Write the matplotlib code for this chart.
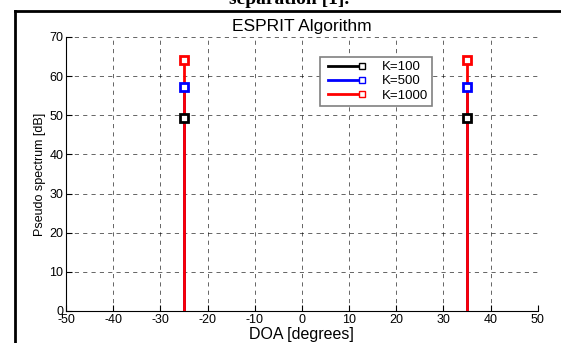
import numpy as np
import matplotlib
matplotlib.use('Agg')
import matplotlib.pyplot as plt
from matplotlib.lines import Line2D
from matplotlib.legend_handler import HandlerLine2D

# data
doa = [-25, 35]
labels = ['K=100', 'K=500', 'K=1000']
colors = ['black', 'blue', 'red']
peaks_k100 = [49.3, 49.3]
peaks_k500 = [57.3, 57.3]
peaks_k1000 = [64.0, 64.0]
peaks = [peaks_k100, peaks_k500, peaks_k1000]

xticks = list(range(-50, 51, 10))
yticks = list(range(0, 71, 10))

plt.rcParams['font.family'] = ['Liberation Sans', 'DejaVu Sans']
plt.rcParams['axes.unicode_minus'] = False


class EndMarker(HandlerLine2D):
    # legend line with the marker only at its right end
    def create_artists(self, legend, orig_handle, xdescent, ydescent,
                       width, height, fontsize, trans):
        arts = super().create_artists(legend, orig_handle, xdescent, ydescent,
                                      width, height, fontsize, trans)
        for a in arts:
            n = len(a.get_xdata())
            a.set_markevery([n - 1])
        return arts


fig = plt.figure(figsize=(5.61, 3.43), dpi=100)
ax = fig.add_axes([0.1176, 0.0933, 0.841, 0.799])

for vals, c in zip(peaks, colors):
    for x, v in zip(doa, vals):
        ax.plot([x, x], [0, v], color=c, lw=2, solid_capstyle='butt', zorder=3)
        ax.plot([x], [v], marker='s', ms=6, mfc='white', mec=c, mew=2,
                linestyle='none', zorder=4)

ax.set_xlim(-50, 50)
ax.set_ylim(0, 70)
ax.set_xticks(xticks)
ax.set_yticks(yticks)
ax.tick_params(direction='in', length=4, labelsize=9, pad=2)
ax.grid(True, color='black', linestyle=(0, (5, 5)), lw=0.6, alpha=0.7)
ax.spines['top'].set_visible(False)
ax.spines['right'].set_visible(False)

ax.set_title('ESPRIT Algorithm', fontsize=12.5, pad=4)
ax.set_xlabel('DOA [degrees]', fontsize=11.5, labelpad=1)
ax.set_ylabel('Pseudo spectrum [dB]', fontsize=9, labelpad=2)

handles = [Line2D([0, 1], [0, 0], color=c, lw=2, marker='s', ms=5, mfc='white',
                  mec=c, mew=1) for c in colors]
leg = ax.legend(handles, labels, loc='upper left', bbox_to_anchor=(0.538, 0.927),
                borderaxespad=0, numpoints=2, fontsize=9.5, fancybox=False,
                framealpha=1, edgecolor='gray', handlelength=3.2, borderpad=0.3,
                labelspacing=0.15, handletextpad=1.2,
                handler_map={Line2D: EndMarker()})
leg.get_frame().set_linewidth(1.2)

# scanned page frame and clipped caption
fig.add_artist(Line2D([15/561, 15/561], [0, 1 - 11/343], color='black', lw=2))
fig.add_artist(Line2D([15/561, 1], [1 - 11/343, 1 - 11/343], color='black', lw=2))
fig.text(0.515, 1 - 4/343, 'separation [1].', family='Liberation Serif',
         weight='bold', fontsize=14, ha='center', va='baseline')

fig.savefig('out.png', dpi=100)
